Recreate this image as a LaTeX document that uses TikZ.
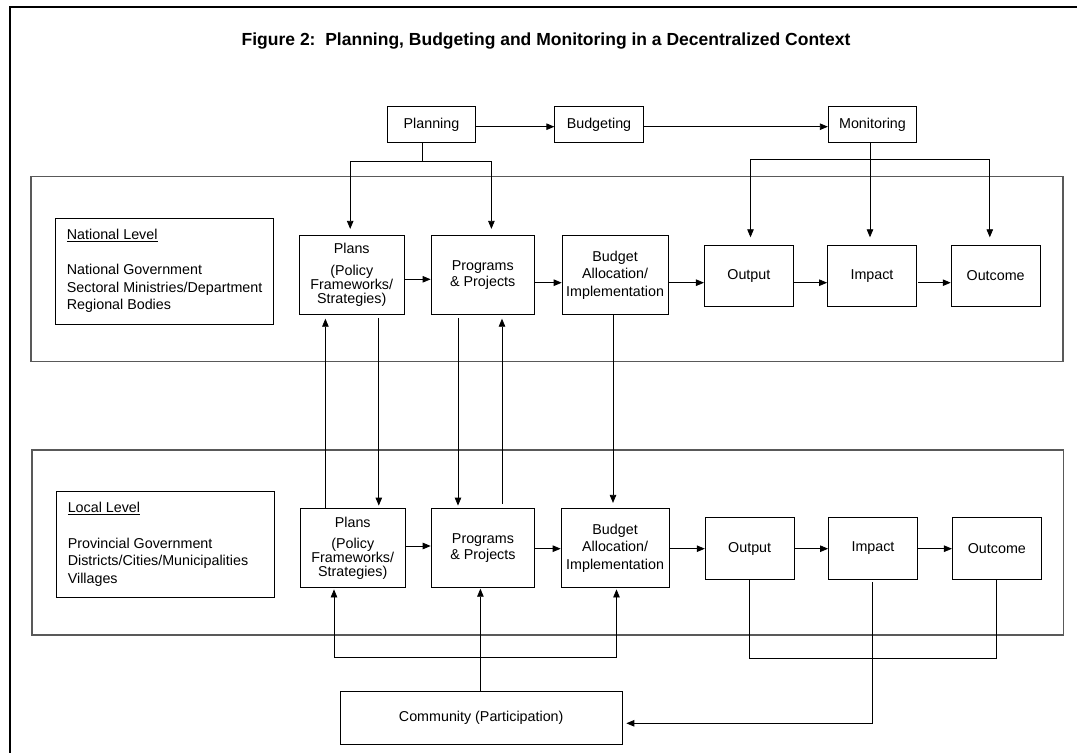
\documentclass[tikz,border=0pt]{standalone}
\usepackage{fontspec}
\setmainfont{Liberation Sans}
\usetikzlibrary{arrows.meta,calc}

\begin{document}
\begin{tikzpicture}[x=1bp,y=-1bp,
  txt/.style={font=\fontsize{14.3bp}{17.5bp}\selectfont},
  box/.style={txt, draw=black, line width=0.8bp, inner sep=0pt, align=center},
  bigbox/.style={box, minimum height=78.6bp},
  smallbox/.style={box, minimum width=89bp, minimum height=61.7bp},
  topbox/.style={box, minimum width=88.5bp, minimum height=35.6bp},
  levelbox/.style={draw=black!65, line width=1.3bp, inner sep=0pt, minimum width=1032bp, minimum height=185bp},
  infobox/.style={draw=black, line width=0.8bp, inner sep=0pt, minimum width=218bp, minimum height=106bp},
  infotext/.style={txt, inner sep=0pt, align=left, anchor=west},
  conn/.style={draw=black, line width=0.8bp},
  arr/.style={conn, -{Triangle[length=8bp,width=6.5bp]}},
]
\useasboundingbox (0,0) rectangle (1077,753);

% page frame
\draw[line width=2bp] (10.3,760) -- (10.3,7) -- (1085,7);

% title
\node[font=\fontsize{17.5bp}{20bp}\selectfont\bfseries] (title) at (546,41)
  {Figure 2:\ \ Planning, Budgeting and Monitoring in a Decentralized Context};

% the three phases
\node[topbox] (planning)   at (431.5,124.5) {Planning};
\node[topbox] (budgeting)  at (599,124.5)   {Budgeting};
\node[topbox] (monitoring) at (872.5,124.5) {Monitoring};

% level frames
\node[levelbox] (national) at (547,269.2) {};
\node[levelbox, minimum width=1031.5bp] (local) at (547.75,542.5) {};

% national level
\node[infobox] (natinfo) at (164.1,271.3) {};
\node[infotext] (nattext) at ($(natinfo.west)+(12,0)$)
  {\underline{National Level}\\[17.5bp]National Government\\Sectoral Ministries/Department\\Regional Bodies};
\node[bigbox, minimum width=105.7bp, font=\fontsize{14.3bp}{14bp}\selectfont] (plansN) at (351.75,275)
  {Plans\\[8bp](Policy\\Frameworks/\\Strategies)};
\node[bigbox, minimum width=103.5bp, font=\fontsize{14.3bp}{16.7bp}\selectfont] (progN) at (482.75,275)
  {Programs\\\& Projects};
\node[bigbox, minimum width=106bp] (budN) at (615.1,275)
  {Budget\\Allocation/\\Implementation};
\node[smallbox] (outN)  at (748.85,275.85) {Output};
\node[smallbox] (impN)  at (872,275.85)    {Impact};
\node[smallbox] (outcN) at (995.65,275.85) {Outcome};

% local level
\node[infobox] (locinfo) at (165,544.2) {};
\node[infotext] (loctext) at ($(locinfo.west)+(12,0)$)
  {\underline{Local Level}\\[18.5bp]Provincial Government\\Districts/Cities/Municipalities\\Villages};
\node[bigbox, minimum width=105.7bp, font=\fontsize{14.3bp}{14bp}\selectfont] (plansL) at (352.75,548)
  {Plans\\[7bp](Policy\\Frameworks/\\Strategies)};
\node[bigbox, minimum width=103.7bp, font=\fontsize{14.3bp}{16.7bp}\selectfont] (progL) at (482.95,548)
  {Programs\\\& Projects};
\node[bigbox, minimum width=108bp] (budL) at (615.1,548)
  {Budget\\Allocation/\\Implementation};
\node[smallbox] (outL)  at (749.7,548.5)  {Output};
\node[smallbox] (impL)  at (873,548.5)    {Impact};
\node[smallbox] (outcL) at (996.85,548.5) {Outcome};

% community
\node[box, minimum width=282.5bp, minimum height=53bp] (community) at (481.2,717.5)
  {Community (Participation)};

% phase sequence
\draw[arr] ($(planning.east)+(0,2.2)$) coordinate (t1) -- (t1 -| budgeting.west);
\draw[arr] ($(budgeting.east)+(0,2.2)$) coordinate (t2) -- (t2 -| monitoring.west);

% planning feeds plans and programmes
\coordinate (pj) at (422.7,161.3);
\coordinate (pl) at (350.2,161.3);
\coordinate (pr) at (491.4,161.3);
\draw[conn] (planning.south -| pj) -- (pj);
\draw[conn] (pl) -- (pr);
\draw[arr, shorten >=6.4bp] (pl) -- (pl |- plansN.north);
\draw[arr, shorten >=6.4bp] (pr) -- (pr |- progN.north);

% monitoring feeds output, impact, outcome
\coordinate (mj) at (870,159.3);
\coordinate (ml) at (750.5,159.3);
\coordinate (mr) at (989.8,159.3);
\draw[conn] (monitoring.south -| mj) -- (mj);
\draw[conn] (ml) -- (mr);
\draw[arr, shorten >=7.3bp] (ml) -- (ml |- outN.north);
\draw[arr, shorten >=7.3bp] (mj) -- (mj |- impN.north);
\draw[arr, shorten >=7.3bp] (mr) -- (mr |- outcN.north);

% national chain
\draw[arr] ($(plansN.east)+(0,4.3)$) coordinate (n1) -- (n1 -| progN.west);
\draw[arr] ($(progN.east)+(0,7.7)$) coordinate (n2) -- (n2 -| budN.west);
\draw[arr] ($(budN.east)+(0,7.7)$) coordinate (n3) -- (n3 -| outN.west);
\draw[arr] ($(outN.east)+(0,6.85)$) coordinate (n4) -- (n4 -| impN.west);
\draw[arr, shorten <=1.5bp] ($(impN.east)+(0,6.85)$) coordinate (n5) -- (n5 -| outcN.west);

% local chain
\draw[arr] ($(plansL.east)+(0,-2)$) coordinate (l1) -- (l1 -| progL.west);
\draw[arr] ($(progL.east)+(0,0.7)$) coordinate (l2) -- (l2 -| budL.west);
\draw[arr] ($(budL.east)+(0,0.7)$) coordinate (l3) -- (l3 -| outL.west);
\draw[arr] ($(outL.east)+(0,0.2)$) coordinate (l4) -- (l4 -| impL.west);
\draw[arr] ($(impL.east)+(0,0.2)$) coordinate (l5) -- (l5 -| outcL.west);

% links between the two levels
\coordinate (v1) at (325.4,0);
\coordinate (v2) at (378.8,0);
\coordinate (v3) at (458,0);
\coordinate (v4) at (502,0);
\coordinate (v5) at (613,0);
\draw[arr, shorten >=4bp] (plansL.north -| v1) -- (plansN.south -| v1);
\draw[arr, shorten <=3.4bp, shorten >=2.7bp] (plansN.south -| v2) -- (plansL.north -| v2);
\draw[arr, shorten <=3.4bp, shorten >=2.7bp] (progN.south -| v3) -- (progL.north -| v3);
\draw[arr, shorten <=4.4bp, shorten >=4bp] (progL.north -| v4) -- (progN.south -| v4);
\draw[arr, shorten >=5.4bp] (budN.south -| v5) -- (budL.north -| v5);

% community participation
\coordinate (b1) at (334,657.3);
\coordinate (b2) at (616.5,657.3);
\coordinate (cx) at (480.4,0);
\draw[conn] (b1) -- (b2);
\draw[arr, shorten >=1.7bp] (b1) -- (b1 |- plansL.south);
\draw[arr, shorten >=1.7bp] (b2) -- (b2 |- budL.south);
\draw[arr, shorten >=1bp] (community.north -| cx) -- (progL.south -| cx);

% results loop
\coordinate (rb) at (0,658.3);
\draw[conn] (outL.south) -- (outL.south |- rb) -| (outcL.south);
\coordinate (ri) at (872.2,723.3);
\draw[arr, shorten <=2.4bp, shorten >=3.5bp] (impL.south -| ri) |- (ri -| community.east);

\end{tikzpicture}
\end{document}
